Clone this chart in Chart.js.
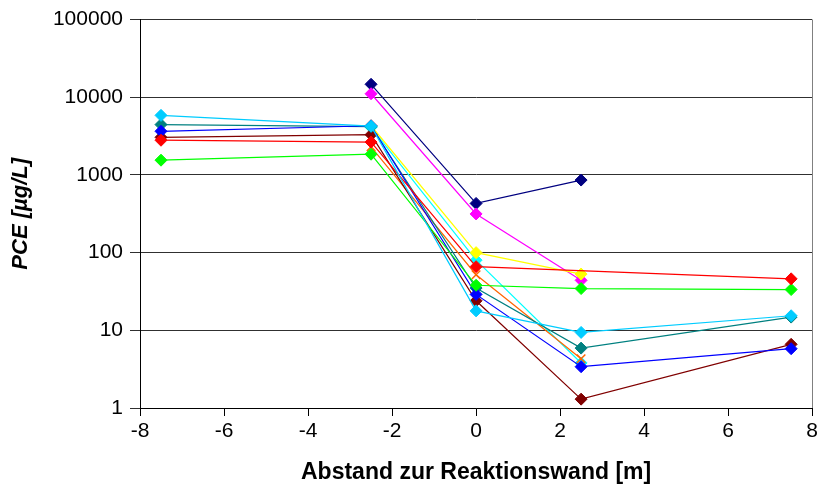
<!DOCTYPE html>
<html>
<head>
<meta charset="utf-8">
<title>PCE</title>
<script src="https://cdn.jsdelivr.net/npm/chart.js@4/dist/chart.umd.min.js"></script>
<style>
  html, body { margin: 0; padding: 0; background: #fff; overflow: hidden; }
  #wrap { width: 821px; height: 496px; }
</style>
</head>
<body>
<div id="wrap"><canvas id="chart"></canvas></div>
<script>
// distance to the reactive wall [m]
const positions = [-7.5, -2.5, 0, 2.5, 7.5];

// PCE concentrations [µg/L] per well, null = no sample
const navy    = [null, 14700, 430, 860, null];
const magenta = [null, 11100, 315, 44, null];
const yellow  = [null, 4300, 100, 53, null];
const cyan    = [null, 4100, 80, 3.8, null];
const darkred = [3050, 3300, 24, 1.3, 6.6];
const teal    = [4450, 4200, 35, 5.9, 14.8];
const blue    = [3650, 4300, 29, 3.4, 5.8];
const skyblue = [5850, 4250, 17.8, 9.4, 15.4];
const red     = [2800, 2650, 66, null, 46];
const green   = [1550, 1850, 38, 34.5, 33.5];
const orange  = [null, 2300, 52, 4.3, null];

const yTicks = [1, 10, 100, 1000, 10000, 100000];
const xTicks = [-8, -6, -4, -2, 0, 2, 4, 6, 8];

function points(values) {
  const out = [];
  values.forEach((v, i) => {
    if (v !== null) out.push({ x: positions[i], y: v });
  });
  return out;
}

function series(values, color, style) {
  return {
    data: points(values),
    borderColor: color,
    backgroundColor: color,
    borderWidth: 1.2,
    pointStyle: style || 'rectRot',
    pointRadius: 6,
    pointBorderWidth: style ? 1.5 : 1,
    pointBorderColor: color,
    showLine: true,
    tension: 0
  };
}

// first entry is drawn on top
const datasets = [
  series(skyblue, '#00CCFF'),
  series(red, '#FF0000'),
  series(green, '#00FF00'),
  series(blue, '#0000FF'),
  series(teal, '#008080'),
  series(darkred, '#800000'),
  series(yellow, '#FFFF00'),
  series(orange, '#FF6600', 'crossRot'),
  series(cyan, '#00FFFF'),
  series(magenta, '#FF00FF'),
  series(navy, '#000080')
];

// right edge of the plot frame
const frame = {
  id: 'frame',
  beforeDatasetsDraw(chart) {
    const { ctx, chartArea } = chart;
    ctx.save();
    ctx.strokeStyle = '#808080';
    ctx.lineWidth = 1;
    ctx.beginPath();
    ctx.moveTo(Math.round(chartArea.right) + 0.5, chartArea.top);
    ctx.lineTo(Math.round(chartArea.right) + 0.5, chartArea.bottom);
    ctx.stroke();
    ctx.restore();
  }
};

const font = 'Arial, "Liberation Sans", sans-serif';

new Chart(document.getElementById('chart'), {
  type: 'scatter',
  data: { datasets },
  plugins: [frame],
  options: {
    responsive: true,
    maintainAspectRatio: false,
    animation: false,
    layout: { padding: { top: 18, right: 0, left: 0, bottom: 0 } },
    plugins: {
      legend: { display: false },
      tooltip: { enabled: false }
    },
    scales: {
      x: {
        type: 'linear',
        min: -8,
        max: 8,
        afterBuildTicks: (scale) => { scale.ticks = xTicks.map(v => ({ value: v })); },
        afterFit: (scale) => { scale.height = 88; },
        ticks: {
          color: '#000',
          font: { family: font, size: 21 },
          padding: 3,
          maxRotation: 0
        },
        grid: {
          drawOnChartArea: false,
          drawTicks: true,
          tickLength: 8,
          color: '#000'
        },
        border: { color: '#000', width: 1 },
        title: {
          display: true,
          text: 'Abstand zur Reaktionswand [m]',
          color: '#000',
          font: { family: font, size: 23, weight: 'bold' },
          padding: { top: 0, bottom: 10 }
        }
      },
      y: {
        type: 'logarithmic',
        min: 1,
        max: 100000,
        afterBuildTicks: (scale) => { scale.ticks = yTicks.map(v => ({ value: v })); },
        afterFit: (scale) => { scale.width = 140; },
        ticks: {
          color: '#000',
          font: { family: font, size: 21 },
          padding: 7,
          callback: (v) => String(v)
        },
        grid: {
          color: '#303030',
          lineWidth: 1,
          tickLength: 10
        },
        border: { color: '#000', width: 1 },
        title: {
          display: true,
          text: 'PCE [µg/L]',
          color: '#000',
          font: { family: font, size: 22, weight: 'bold', style: 'italic' },
          padding: { top: 8, bottom: 0 }
        }
      }
    }
  }
});
</script>
</body>
</html>
